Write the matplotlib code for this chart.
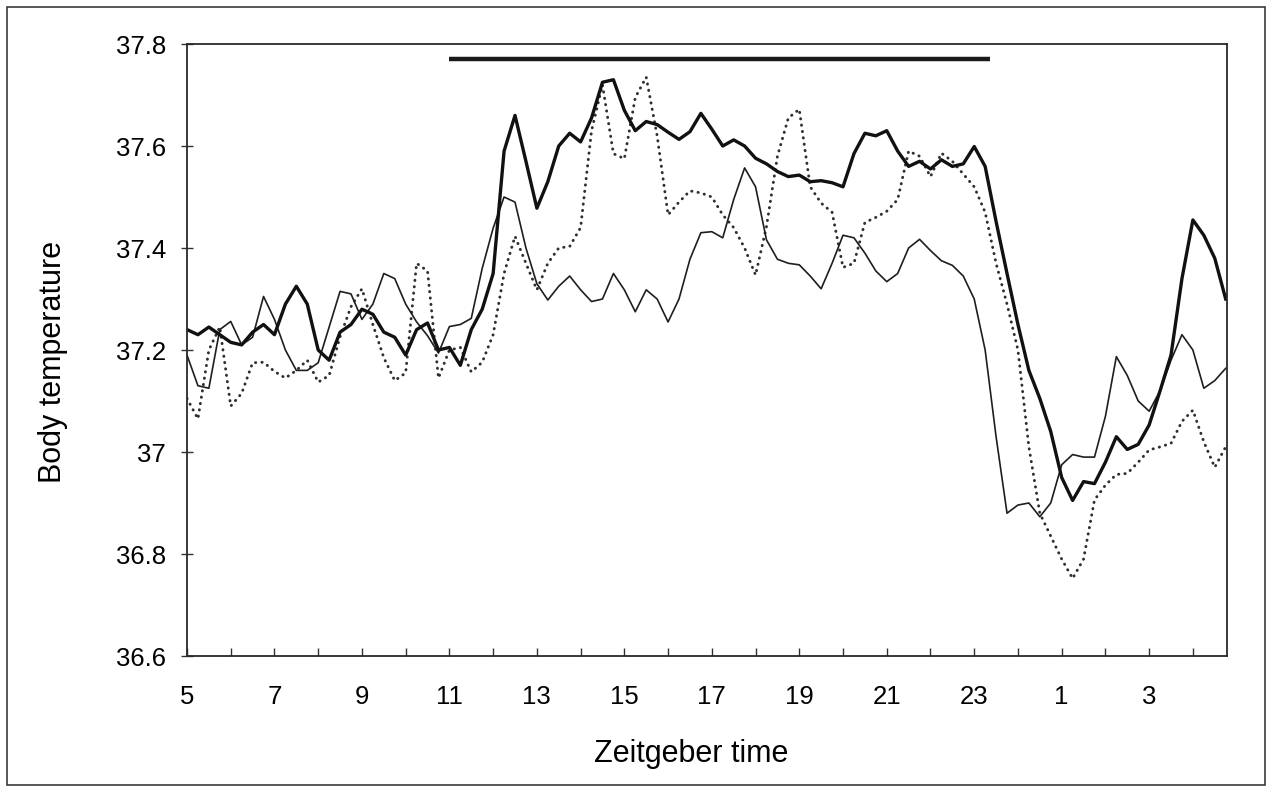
import numpy as np
import matplotlib
matplotlib.use("Agg")
import matplotlib.pyplot as plt
from matplotlib.patches import Rectangle

plt.rcParams['font.family'] = ['Liberation Sans', 'DejaVu Sans']

# Sampling times (hours, continuing past midnight), 15-minute steps
hours = np.arange(5.0, 29.0, 0.25)

# Body temperature traces
temp_thick = [
    37.24, 37.23, 37.245, 37.23, 37.215, 37.21, 37.235, 37.25,
    37.23, 37.29, 37.325, 37.29, 37.20, 37.18, 37.235, 37.25,
    37.28, 37.27, 37.235, 37.225, 37.19, 37.24, 37.253, 37.20,
    37.205, 37.17, 37.24, 37.28, 37.35, 37.59, 37.66, 37.57,
    37.478, 37.53, 37.60, 37.625, 37.608, 37.655, 37.725, 37.73,
    37.67, 37.63, 37.648, 37.642, 37.627, 37.613, 37.628, 37.664,
    37.633, 37.60, 37.612, 37.60, 37.576, 37.565, 37.55, 37.54,
    37.543, 37.53, 37.532, 37.528, 37.52, 37.585, 37.625, 37.62,
    37.63, 37.59, 37.56, 37.57, 37.555, 37.573, 37.56, 37.565,
    37.599, 37.56, 37.452, 37.35, 37.25, 37.16, 37.105, 37.04,
    36.95, 36.905, 36.942, 36.938, 36.98, 37.03, 37.005, 37.015,
    37.053, 37.12, 37.19, 37.34, 37.455, 37.425, 37.38, 37.30,
]

temp_thin = [
    37.19, 37.13, 37.125, 37.24, 37.256, 37.21, 37.225, 37.305,
    37.26, 37.20, 37.16, 37.16, 37.175, 37.245, 37.315, 37.31,
    37.26, 37.29, 37.35, 37.34, 37.29, 37.255, 37.228, 37.194,
    37.246, 37.25, 37.262, 37.36, 37.439, 37.50, 37.49, 37.40,
    37.33, 37.298, 37.325, 37.345, 37.318, 37.295, 37.30, 37.35,
    37.318, 37.275, 37.318, 37.30, 37.255, 37.30, 37.378, 37.43,
    37.432, 37.42, 37.495, 37.557, 37.52, 37.416, 37.378, 37.37,
    37.367, 37.345, 37.32, 37.37, 37.425, 37.42, 37.39, 37.355,
    37.334, 37.35, 37.40, 37.417, 37.395, 37.375, 37.366, 37.345,
    37.30, 37.20, 37.03, 36.88, 36.896, 36.90, 36.873, 36.90,
    36.975, 36.995, 36.99, 36.99, 37.07, 37.187, 37.15, 37.10,
    37.08, 37.12, 37.18, 37.23, 37.20, 37.125, 37.14, 37.164,
]

temp_dotted = [
    37.105, 37.065, 37.20, 37.245, 37.09, 37.115, 37.175, 37.176,
    37.158, 37.145, 37.16, 37.18, 37.137, 37.15, 37.226, 37.285,
    37.32, 37.25, 37.185, 37.14, 37.155, 37.37, 37.355, 37.145,
    37.20, 37.205, 37.157, 37.176, 37.23, 37.35, 37.423, 37.37,
    37.318, 37.37, 37.40, 37.403, 37.44, 37.63, 37.72, 37.585,
    37.575, 37.695, 37.735, 37.62, 37.465, 37.49, 37.512, 37.508,
    37.50, 37.465, 37.44, 37.40, 37.347, 37.442, 37.58, 37.655,
    37.672, 37.52, 37.488, 37.47, 37.362, 37.37, 37.45, 37.46,
    37.472, 37.495, 37.59, 37.58, 37.54, 37.586, 37.57, 37.545,
    37.52, 37.47, 37.37, 37.29, 37.20, 37.01, 36.88, 36.835,
    36.79, 36.752, 36.79, 36.906, 36.935, 36.956, 36.958, 36.98,
    37.004, 37.01, 37.017, 37.06, 37.082, 37.02, 36.97, 37.01,
]

# Dark phase bar
dark_start, dark_end, dark_level = 11.0, 23.35, 37.77

x_tick_hours = list(range(5, 29))
x_label_hours = list(range(5, 29, 2))
x_tick_labels = ['5', '7', '9', '11', '13', '15', '17', '19', '21', '23', '1', '3']
y_ticks = [36.6, 36.8, 37.0, 37.2, 37.4, 37.6, 37.8]
y_tick_labels = ['36.6', '36.8', '37', '37.2', '37.4', '37.6', '37.8']

W, H = 1272, 788
fig = plt.figure(figsize=(W / 100, H / 100), dpi=100)
fig.patch.set_facecolor('white')

# Chart-area frame
fig.patches.append(Rectangle((7 / W, 3 / H), 1258 / W, 778 / H,
                             transform=fig.transFigure, fill=False,
                             edgecolor='#3a3a3a', linewidth=1.2))

ax = fig.add_axes([187 / W, 1 - 656 / H, (1227 - 187) / W, (656 - 44) / H])

ax.plot(hours, temp_dotted, color='#2e2e2e', linewidth=2.1,
        linestyle=(0, (0.1, 2.1)), dash_capstyle='round')
ax.plot(hours, temp_thin, color='#1e1e1e', linewidth=1.2)
ax.plot(hours, temp_thick, color='#111111', linewidth=2.4)
ax.plot([dark_start, dark_end], [dark_level, dark_level],
        color='#1a1a1a', linewidth=3.2, solid_capstyle='butt')

ax.set_xlim(5, 28.78)
ax.set_ylim(36.6, 37.8)

ax.set_xticks(x_tick_hours, minor=True)
ax.set_xticks(x_label_hours)
ax.set_xticklabels(x_tick_labels)
ax.set_yticks(y_ticks)
ax.set_yticklabels(y_tick_labels)

ax.tick_params(axis='x', which='both', direction='in', length=5.5,
               width=1.0, color='#333333', pad=21, labelsize=18.5)
ax.tick_params(axis='y', which='major', direction='inout', length=8,
               width=1.0, color='#333333', pad=11, labelsize=18.5)

for s in ax.spines.values():
    s.set_color('#2a2a2a')
    s.set_linewidth(1.3)

fig.text(691 / W, 1 - 754 / H, 'Zeitgeber time', fontsize=22,
         ha='center', va='center')
fig.text(53 / W, 1 - 362 / H, 'Body temperature', fontsize=22,
         rotation=90, ha='center', va='center')

fig.savefig('out.png', dpi=100, facecolor='white')
